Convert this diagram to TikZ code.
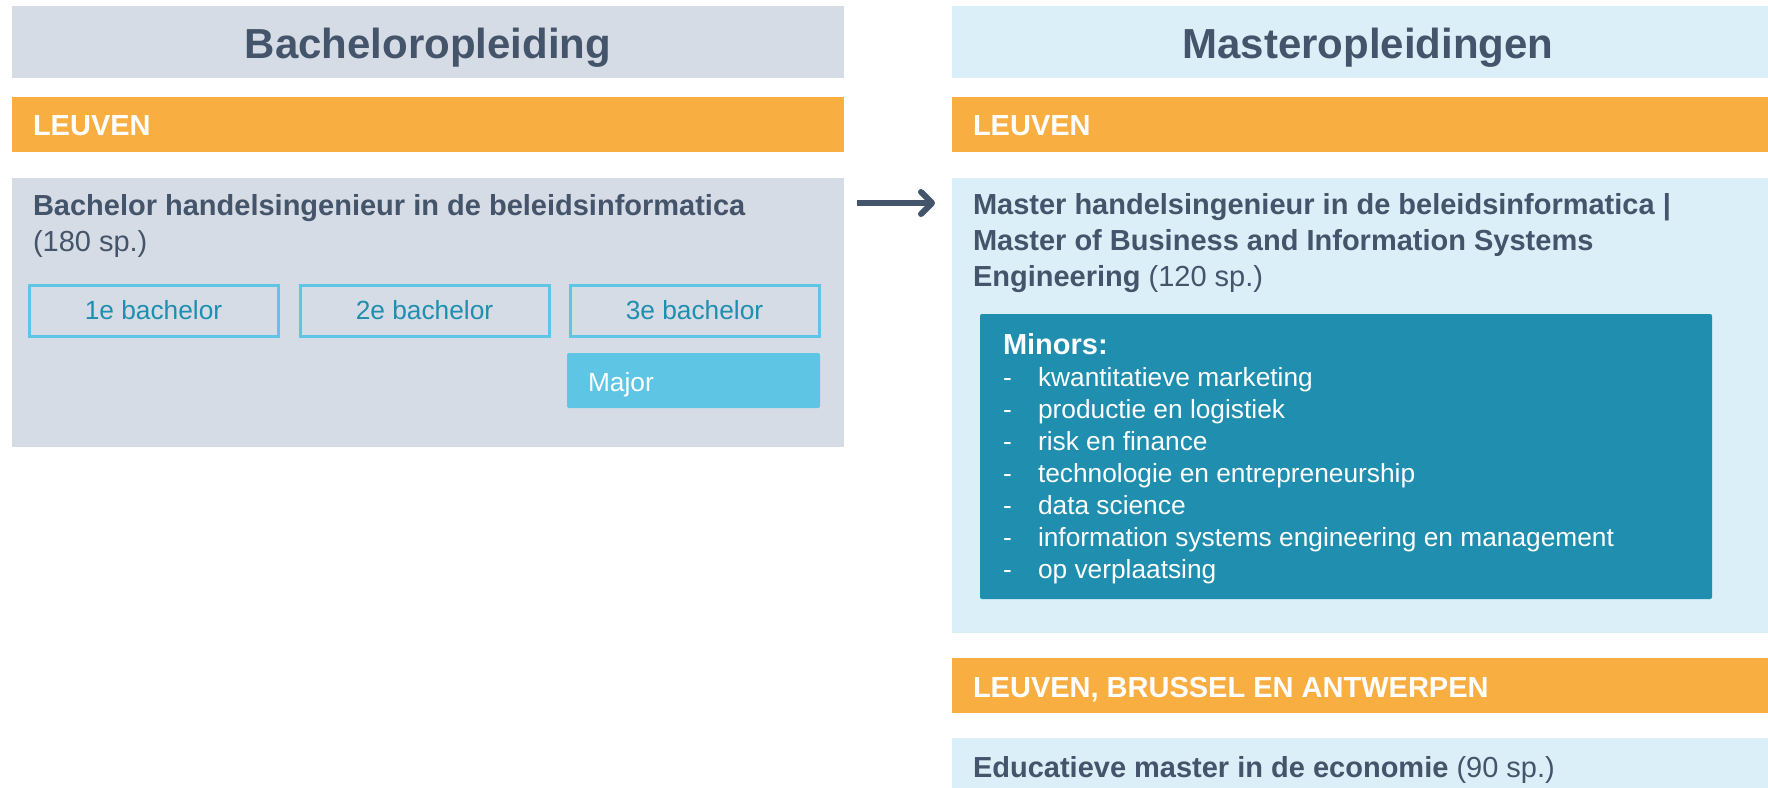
\documentclass[tikz,border=0pt]{standalone}
\usepackage{fontspec}
\setmainfont{Liberation Sans}
\usetikzlibrary{arrows.meta}
\definecolor{hdrgrey}{HTML}{D6DCE5}
\definecolor{hdrblue}{HTML}{DAEFF8}
\definecolor{orng}{HTML}{F9AE42}
\definecolor{darktxt}{HTML}{44546A}
\definecolor{cyanb}{HTML}{5FC5E4}
\definecolor{tealb}{HTML}{1F8EAF}
\newcommand\ftitle{\fontsize{42}{50}\selectfont\bfseries}
\newcommand\fbody{\fontsize{29}{36}\selectfont}
\newcommand\fsmall{\fontsize{26.3}{32}\selectfont}
\begin{document}
\begin{tikzpicture}[x=1pt,y=-1pt,
  panel/.style={anchor=north west, inner sep=0pt, outer sep=0pt, draw=none},
  txt/.style={inner sep=0pt, outer sep=0pt, anchor=base west},
  yearbox/.style={anchor=north west, inner sep=0pt, draw=cyanb, line width=3pt,
     minimum width=249pt, minimum height=51pt, font=\fsmall, text=tealb},
  loc/.style={txt, font=\fbody\bfseries, text=white},
  item/.style={txt, font=\fsmall, text=white}]
\useasboundingbox (0,0) rectangle (1768,787);
\clip (0,0) rectangle (1768,787);
% left column
\node[panel, fill=hdrgrey, minimum width=832pt, minimum height=72pt] (bhead) at (12,6) {};
\node[txt, anchor=base, font=\ftitle, text=darktxt] (bheadt) at (428,58) {Bacheloropleiding};
\node[panel, fill=orng, minimum width=832pt, minimum height=55pt] (bloc) at (12,97) {};
\node[loc] (bloct) at (33,135) {LEUVEN};
\node[panel, fill=hdrgrey, minimum width=832pt, minimum height=269pt] (bach) at (12,178) {};
\node[txt, font=\fbody, text=darktxt] (bacht1) at (33,215) {\textbf{Bachelor handelsingenieur in de beleidsinformatica}};
\node[txt, font=\fbody, text=darktxt] (bacht2) at (33,251.5) {(180 sp.)};
\node[yearbox] (y1) at (27.5,283.5) {1e bachelor};
\node[yearbox] (y2) at (298.5,283.5) {2e bachelor};
\node[yearbox] (y3) at (568.5,283.5) {3e bachelor};
\node[panel, fill=cyanb, rounded corners=2pt, minimum width=253pt, minimum height=55pt] (major) at (567,353) {};
\node[txt, font=\fsmall, text=white] (majort) at (588,391) {Major};
% right column
\node[panel, fill=hdrblue, minimum width=832pt, minimum height=72pt] (mhead) at (952,6) {};
\node[txt, anchor=base, font=\ftitle, text=darktxt] (mheadt) at (1368,58) {Masteropleidingen};
\node[panel, fill=orng, minimum width=832pt, minimum height=55pt] (mloc) at (952,97) {};
\node[loc] (mloct) at (973,135) {LEUVEN};
\node[panel, fill=hdrblue, minimum width=832pt, minimum height=455pt] (master) at (952,178) {};
\node[txt, font=\fbody\bfseries, text=darktxt] (mt1) at (973,214) {Master handelsingenieur in de beleidsinformatica |};
\node[txt, font=\fbody\bfseries, text=darktxt] (mt2) at (973,250) {Master of Business and Information Systems};
\node[txt, font=\fbody, text=darktxt] (mt3) at (973,286) {\textbf{Engineering} (120 sp.)};
\node[panel, fill=tealb, rounded corners=2pt, minimum width=732pt, minimum height=285pt] (minors) at (980,314) {};
\node[txt, font=\fbody\bfseries, text=white] (minorst) at (1003,354) {Minors:};
\foreach \t [count=\i] in {kwantitatieve marketing, productie en logistiek, risk en finance,
   technologie en entrepreneurship, data science,
   information systems engineering en management, op verplaatsing}{
  \node[item] (d\i) at (1003,{386.7+31.9*(\i-1)}) {-};
  \node[item] (m\i) at (1038,{386.7+31.9*(\i-1)}) {\t};
}
\node[panel, fill=orng, minimum width=832pt, minimum height=55pt] (mloc2) at (952,658) {};
\node[loc] (mloc2t) at (973,697) {LEUVEN, BRUSSEL EN ANTWERPEN};
\node[panel, fill=hdrblue, minimum width=832pt, minimum height=70pt] (edu) at (952,738) {};
\node[txt, font=\fbody, text=darktxt] (edut) at (973,777) {\textbf{Educatieve master in de economie} (90 sp.)};
% arrow
\coordinate (arS) at (857,203);
\coordinate (arE) at (935,203);
\draw[darktxt, line width=6pt, -{Straight Barb[round, length=11pt, width=22pt]}] (arS) -- (arE);
\end{tikzpicture}
\end{document}
